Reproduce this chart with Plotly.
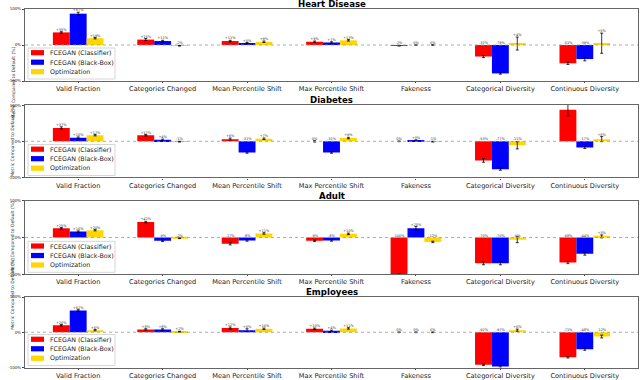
import plotly.graph_objects as go
from plotly.subplots import make_subplots

# --- DATA ---
CATEGORIES = ["Valid Fraction", "Categories Changed", "Mean Percentile Shift",
              "Max Percentile Shift", "Fakeness", "Categorical Diversity",
              "Continuous Diversity"]
DATASETS = ["Heart Disease", "Diabetes", "Adult", "Employees"]
METHODS = ["FCEGAN (Classifier)", "FCEGAN (Black-Box)", "Optimization"]

heart_clf = [35, 15, 11, 9, -2, -32, -51]
heart_bb = [87, 11, 5, 7, 0, -79, -39]
heart_opt = [19, -2, 9, 13, 0, 4, 5]
heart_clf_err = [2, 3, 2, 2, 1, 3, 3]
heart_bb_err = [4, 2, 2, 2, 1, 2, 5]
heart_opt_err = [2, 1, 2, 2, 1, 18, 28]

diab_clf = [37, 17, 6, 0, 0, -53, 87]
diab_bb = [10, 4, -31, -31, 3, -77, -17]
diab_opt = [17, -1, 7, 9, -1, -11, 6]
diab_clf_err = [3, 2, 3, 2, 1, 5, 17]
diab_bb_err = [2, 2, 2, 2, 1, 3, 3]
diab_opt_err = [2, 1, 2, 2, 1, 10, 7]

adult_clf = [25, 42, -17, -9, -100, -70, -68]
adult_bb = [16, -9, -8, -8, 25, -70, -44]
adult_opt = [20, -2, 11, 10, -12, -6, 3]
adult_clf_err = [2, 2, 3, 2, 1, 4, 3]
adult_bb_err = [2, 2, 2, 2, 5, 4, 4]
adult_opt_err = [2, 1, 2, 2, 2, 8, 4]

empl_clf = [20, 8, 12, 10, 0, -92, -71]
empl_bb = [62, 8, 6, 4, 0, -97, -48]
empl_opt = [6, 2, 10, 11, 0, 6, -12]
empl_clf_err = [2, 2, 3, 2, 1, 2, 2]
empl_bb_err = [2, 2, 4, 2, 1, 2, 3]
empl_opt_err = [2, 1, 2, 2, 1, 3, 4]

VALUES = [
    [(heart_clf, heart_clf_err), (heart_bb, heart_bb_err), (heart_opt, heart_opt_err)],
    [(diab_clf, diab_clf_err), (diab_bb, diab_bb_err), (diab_opt, diab_opt_err)],
    [(adult_clf, adult_clf_err), (adult_bb, adult_bb_err), (adult_opt, adult_opt_err)],
    [(empl_clf, empl_clf_err), (empl_bb, empl_bb_err), (empl_opt, empl_opt_err)],
]

# --- STYLE ---
COLORS = ["#ff0000", "#0000ff", "#ffd700"]
SHIFTS = [-0.2, 0.0, 0.2]
FONT = "DejaVu Sans"
DOMAINS = [[0.8, 1.0], [0.532, 0.733], [0.263, 0.4675], [0.004, 0.2]]
ML, MR, MT, MB = 25, 2, 9, 11
PW, PH = 640 - ML - MR, 380 - MT - MB


def px_x(px):
    return (px - ML) / PW


def px_y(py):
    return (380 - MB - py) / PH


fig = make_subplots(rows=4, cols=1)

for r, (name, series) in enumerate(zip(DATASETS, VALUES), start=1):
    for m, (vals, errs) in enumerate(series):
        xs = [i + SHIFTS[m] for i in range(len(CATEGORIES))]
        fig.add_trace(go.Bar(
            x=xs, y=vals, width=0.2, name=METHODS[m],
            marker=dict(color=COLORS[m], line=dict(width=0)),
            error_y=dict(type="data", array=errs, color="black",
                         thickness=0.8, width=1.5),
            showlegend=False,
        ), row=r, col=1)
        # value labels above bars
        ys = [max(v, 0) + (e if v > 0 else 0) for v, e in zip(vals, errs)]
        fig.add_trace(go.Scatter(
            x=xs, y=ys, mode="text",
            text=[f"{v:+d}%" if v != 0 else "0%" for v in vals],
            textposition="top center",
            textfont=dict(size=3.5, color="#333", family=FONT),
            showlegend=False, hoverinfo="skip",
        ), row=r, col=1)

    fig.add_hline(y=0, line=dict(color="#999", width=0.8, dash="dot"), row=r, col=1)

    ya = "yaxis" if r == 1 else f"yaxis{r}"
    d = DOMAINS[r - 1]
    fig.update_layout(**{ya: dict(domain=d)})

    # subplot title
    fig.add_annotation(
        text=f"<b>{name}</b>", x=0.5, y=d[1], xref="paper", yref="paper",
        xanchor="center", yanchor="bottom", yshift=-1, showarrow=False,
        borderpad=0, font=dict(size=8.6, family=FONT, color="black"),
    )
    # y-axis title
    fig.add_annotation(
        text="Metric Compared to Default (%)", x=px_x(8), y=(d[0] + d[1]) / 2,
        xref="paper", yref="paper", textangle=-90, showarrow=False,
        font=dict(size=4.5, family=FONT, color="#333"),
    )

    # legend box (matplotlib style, one per panel)
    bottom = 380 - MB - d[0] * PH
    fig.add_shape(type="rect", xref="paper", yref="paper",
                  x0=px_x(28), x1=px_x(115), y0=px_y(bottom - 2), y1=px_y(bottom - 33),
                  line=dict(color="#cccccc", width=0.8), fillcolor="rgba(255,255,255,0.85)",
                  layer="above")
    for k, label in enumerate(METHODS):
        cy = bottom - 28.3 + k * 9.5
        fig.add_shape(type="rect", xref="paper", yref="paper",
                      x0=px_x(31), x1=px_x(44), y0=px_y(cy + 2.6), y1=px_y(cy - 2.6),
                      line=dict(width=0), fillcolor=COLORS[k], layer="above")
        fig.add_annotation(
            text=label, x=px_x(48), y=px_y(cy), xref="paper", yref="paper",
            xanchor="left", yanchor="middle", showarrow=False,
            font=dict(size=6.3, family=FONT, color="#222"),
        )

fig.update_xaxes(
    range=[-0.63, 6.63], tickvals=list(range(len(CATEGORIES))), ticktext=CATEGORIES,
    tickfont=dict(size=6.6, family=FONT, color="#222"),
    ticks="outside", ticklen=1, tickcolor="#444", ticklabelstandoff=0,
    showline=True, mirror=True, linecolor="#666", linewidth=1.2,
    showgrid=False, zeroline=False,
)
fig.update_yaxes(
    range=[-100, 100], tickvals=[-100, 0, 100], ticktext=["-100%", "0%", "100%"],
    tickfont=dict(size=4, family=FONT, color="#222"),
    ticks="outside", ticklen=2, tickcolor="#444",
    showline=True, mirror=True, linecolor="#666", linewidth=1.2,
    showgrid=False, zeroline=False,
)

fig.update_layout(
    width=640, height=380,
    margin=dict(l=ML, r=MR, t=MT, b=MB, autoexpand=False),
    paper_bgcolor="white", plot_bgcolor="white",
    barmode="overlay",
    font=dict(family=FONT),
)

# the page body has a default 8px margin; remove it so the figure fills the window
fig.write_html("out.html", config={"displayModeBar": False},
               post_script="document.body.style.margin = '0';")
